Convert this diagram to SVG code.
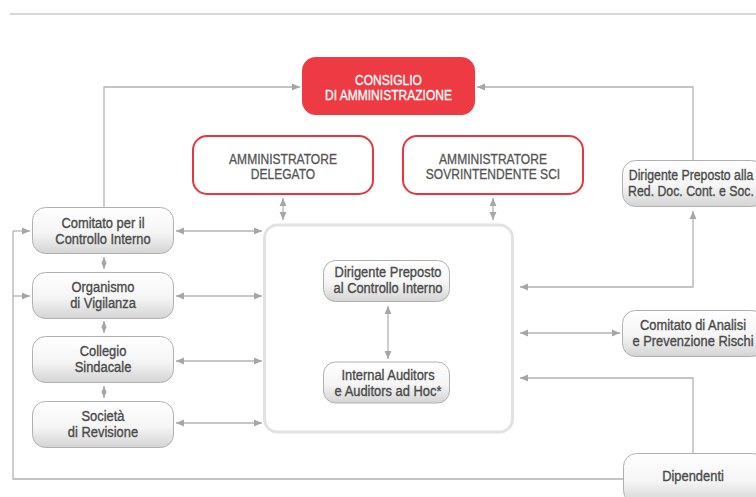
<svg xmlns="http://www.w3.org/2000/svg" width="756" height="497" viewBox="0 0 756 497">
<defs>
<linearGradient id="gbox" x1="0" y1="0" x2="0" y2="1">
<stop offset="0" stop-color="#ffffff"/>
<stop offset="0.55" stop-color="#f5f5f5"/>
<stop offset="1" stop-color="#d4d4d4"/>
</linearGradient>
<marker id="ah" viewBox="0 0 8 8" refX="8" refY="4" markerWidth="8" markerHeight="8" markerUnits="userSpaceOnUse" orient="auto-start-reverse">
<path d="M0,0.6 L8,4 L0,7.4 z" fill="#a6a6a6"/>
</marker>
<marker id="ahs" viewBox="0 0 8 8" refX="8" refY="4" markerWidth="6" markerHeight="6" markerUnits="userSpaceOnUse" orient="auto-start-reverse">
<path d="M0,0.6 L8,4 L0,7.4 z" fill="#a6a6a6"/>
</marker>
</defs>
<style>
.gb{fill:url(#gbox);stroke:#b0b0b0;stroke-width:1}
.rb{fill:#ffffff;stroke:#e8353e;stroke-width:2}
.rf{fill:#ee3a43;stroke:none}
.t{font-family:"Liberation Sans",Arial,sans-serif;font-size:14.5px;fill:#4a4a4a;stroke:#4a4a4a;stroke-width:0.35;text-anchor:middle}
.tc{font-family:"Liberation Sans",Arial,sans-serif;font-size:14px;fill:#555555;stroke:#555555;stroke-width:0.3;text-anchor:middle}
.tw{fill:#ffffff;stroke:#ffffff}
.ln{fill:none;stroke:#b3b3b3;stroke-width:1.3}
.a2{marker-start:url(#ah);marker-end:url(#ah)}
.a1{marker-end:url(#ah)}
.as{marker-start:url(#ahs);marker-end:url(#ahs)}
</style>
<line x1="10" y1="14" x2="756" y2="14" stroke="#cccccc" stroke-width="1.5"/>
<g id="connectors">
<path class="ln a1" d="M104,207 V87 H300"/>
<path class="ln a1" d="M693,160 V87 H477"/>
<path class="ln a2" d="M283,198 V220"/>
<path class="ln a2" d="M493,198 V220"/>
<path class="ln as" d="M104,257 V269"/>
<path class="ln as" d="M104,321 V333"/>
<path class="ln as" d="M104,386 V398"/>
<path class="ln a2" d="M176,231 H262"/>
<path class="ln a2" d="M176,296 H262"/>
<path class="ln a2" d="M176,361 H262"/>
<path class="ln a2" d="M176,423 H262"/>
<path class="ln a2" d="M388,306 V359"/>
<path class="ln a2" d="M693,211 V287 H520"/>
<path class="ln a2" d="M520,333 H620"/>
<path class="ln a1" d="M693,453 V378 H520"/>
<path class="ln" d="M623,479 H13 V231"/>
<path class="ln a1" d="M13,231 H30"/>
<path class="ln a1" d="M13,296 H30"/>
</g>
<g id="sistema">
<rect x="264.5" y="225" width="248" height="207" rx="13" fill="none" stroke="#e2e2e2" stroke-width="3"/>
</g>
<g id="consiglio">
<rect class="rf" x="302" y="57" width="173" height="58" rx="14"/>
<text class="tc tw" transform="translate(388.5,0) scale(0.86,1)"><tspan x="0" y="85">CONSIGLIO</tspan><tspan x="0" y="100.5">DI AMMINISTRAZIONE</tspan></text>
</g>
<g id="amm-delegato">
<rect class="rb" x="193" y="136" width="180" height="58" rx="14"/>
<text class="tc" transform="translate(283,0) scale(0.86,1)"><tspan x="0" y="164">AMMINISTRATORE</tspan><tspan x="0" y="179">DELEGATO</tspan></text>
</g>
<g id="amm-sovrintendente">
<rect class="rb" x="403" y="136" width="180" height="58" rx="14"/>
<text class="tc" transform="translate(493,0) scale(0.86,1)"><tspan x="0" y="164">AMMINISTRATORE</tspan><tspan x="0" y="179">SOVRINTENDENTE SCI</tspan></text>
</g>
<g id="comitato-controllo">
<rect class="gb" x="32.5" y="207.5" width="141" height="46" rx="13"/>
<text class="t" transform="translate(103,0) scale(0.89,1)"><tspan x="0" y="228">Comitato per il</tspan><tspan x="0" y="244">Controllo Interno</tspan></text>
</g>
<g id="organismo">
<rect class="gb" x="32.5" y="272.5" width="141" height="46" rx="13"/>
<text class="t" transform="translate(103,0) scale(0.89,1)"><tspan x="0" y="292">Organismo</tspan><tspan x="0" y="308">di Vigilanza</tspan></text>
</g>
<g id="collegio">
<rect class="gb" x="32.5" y="336.5" width="141" height="46" rx="13"/>
<text class="t" transform="translate(103,0) scale(0.89,1)"><tspan x="0" y="356.5">Collegio</tspan><tspan x="0" y="372.5">Sindacale</tspan></text>
</g>
<g id="societa">
<rect class="gb" x="32.5" y="401.5" width="141" height="46" rx="13"/>
<text class="t" transform="translate(103,0) scale(0.89,1)"><tspan x="0" y="421.5">Società</tspan><tspan x="0" y="437.5">di Revisione</tspan></text>
</g>
<g id="dirigente-ci">
<rect class="gb" x="323.5" y="260.5" width="126" height="41" rx="12"/>
<text class="t" transform="translate(388,0) scale(0.89,1)"><tspan x="0" y="277.5">Dirigente Preposto</tspan><tspan x="0" y="293">al Controllo Interno</tspan></text>
</g>
<g id="internal-auditors">
<rect class="gb" x="323.5" y="362" width="126" height="41" rx="12"/>
<text class="t" transform="translate(388,0) scale(0.89,1)"><tspan x="0" y="380">Internal Auditors</tspan><tspan x="0" y="396">e Auditors ad Hoc*</tspan></text>
</g>
<g id="dirigente-red">
<rect class="gb" x="622.5" y="160.5" width="142" height="46" rx="13"/>
<text class="t" transform="translate(691,0) scale(0.85,1)"><tspan x="0" y="180">Dirigente Preposto alla</tspan><tspan x="0" y="196">Red. Doc. Cont. e Soc.</tspan></text>
</g>
<g id="comitato-analisi">
<rect class="gb" x="622.5" y="310.5" width="142" height="46" rx="13"/>
<text class="t" transform="translate(693,0) scale(0.89,1)"><tspan x="0" y="330">Comitato di Analisi</tspan><tspan x="0" y="346">e Prevenzione Rischi</tspan></text>
</g>
<g id="dipendenti">
<rect class="gb" x="623.5" y="453.5" width="142" height="50" rx="13"/>
<text class="t" transform="translate(693,0) scale(0.89,1)"><tspan x="0" y="481">Dipendenti</tspan></text>
</g>
</svg>
